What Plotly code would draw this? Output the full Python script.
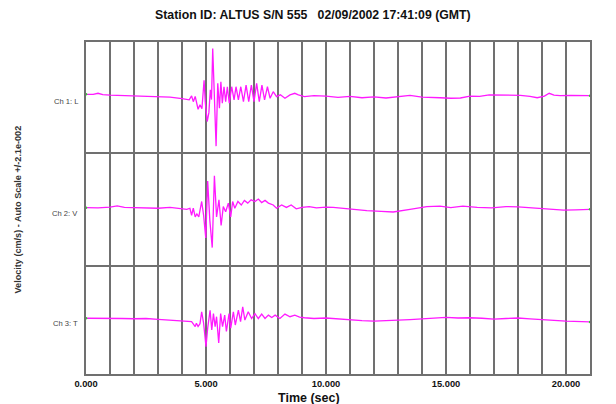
import plotly.graph_objects as go

# ---------------- data (velocity in 1e-3 cm/s) ----------------
t_ch1 = [0.0, 0.3, 0.5, 0.7, 1.0, 1.5, 2.0, 2.5, 3.0, 3.5, 4.0, 4.3, 4.4, 4.47, 4.55,
         4.67, 4.75, 4.83, 4.92, 4.97, 5.05, 5.12, 5.18, 5.23, 5.28, 5.35, 5.42, 5.49,
         5.56, 5.62, 5.68, 5.75, 5.82, 5.89, 5.97, 6.07, 6.17, 6.25, 6.35, 6.45, 6.56,
         6.67, 6.78, 6.89, 7.0, 7.11, 7.22, 7.33, 7.44, 7.56, 7.67, 7.8, 7.94, 8.1, 8.29,
         8.5, 8.7, 8.85, 9.1, 9.5, 10.0, 10.5, 11.0, 11.5, 12.0, 12.5, 13.0, 13.5, 14.0,
         14.5, 14.75, 15.2, 15.6, 16.0, 16.4, 16.8, 17.2, 17.7, 18.1, 18.5, 18.8, 19.1,
         19.3, 19.5, 19.75, 20.2, 20.6, 21.0]
v_ch1 = [1.0, 1.0, 1.4, 0.9, 0.7, 0.6, 0.4, 0.3, 0.1, -0.1, -0.6, -1.1, 0.4, -1.8, 0.2,
         -4.7, -3.0, -4.5, 6.4, -2.0, -9.4, -6.0, 2.7, -1.0, 18.5, -3.7, -18.8, 5.2,
         -4.3, 5.8, -2.4, 3.9, -1.8, 3.9, -2.4, 3.9, -1.1, 3.9, -1.1, 3.9, -1.8,
         4.5, -1.8, 4.5, -1.8, 5.2, -1.8, 4.5, -1.1, 3.9, -0.5, 2.0, 0.1, 0.8, -0.5,
         0.8, 1.4, 0.8, 0.1, 0.5, 0.3, -0.2, 0.2, -0.3, 0.0, -0.4, 0.2, 0.6, -0.1,
         -0.4, -0.3, -0.5, -0.4, 0.3, 0.2, 0.8, 0.7, 0.8, 0.6, 0.2, -0.3, 0.3,
         1.4, 0.7, 0.5, 0.6, 0.5, 0.5]

t_ch2 = [0.0, 0.5, 1.0, 1.3, 1.6, 2.0, 2.5, 3.0, 3.5, 4.0, 4.2, 4.33, 4.4, 4.47, 4.55,
         4.62, 4.7, 4.82, 4.9, 4.99, 5.07, 5.16, 5.26, 5.35, 5.44, 5.54, 5.63, 5.72,
         5.82, 5.93, 6.03, 6.11, 6.2, 6.33, 6.47, 6.6, 6.74, 6.88, 7.04, 7.18, 7.32,
         7.46, 7.6, 7.8, 7.94, 8.15, 8.35, 8.55, 8.76, 9.0, 9.3, 9.6, 10.0, 10.3, 11.0,
         11.7, 12.3, 12.8, 13.5, 14.2, 14.75, 15.2, 15.7, 16.3, 16.9, 17.5, 18.0, 18.4,
         19.2, 19.9, 20.4, 20.9, 21.0]
v_ch2 = [0.3, 0.2, 0.5, 1.0, 0.4, 0.3, 0.2, 0.1, 0.4, 0.0, -0.3, 0.1, -2.5, 0.1, -3.1,
         -2.0, -3.1, 2.6, -2.5, -10.9, 10.2, -4.4, -14.5, 12.1, -3.1, 3.2, -6.3, 0.7,
         -1.2, 2.0, -3.1, 2.6, 0.1, 2.6, 1.3, 3.0, 2.0, 3.2, 2.6, 3.5, 2.2,
         3.0, 2.0, 1.3, 0.1, 1.3, 0.4, 1.3, -0.1, 0.4, 0.7, 0.2, 0.5, 0.4, -0.3,
         -0.8, -1.1, -1.3, -0.3, 0.7, 0.9, 0.3, 0.9, 0.4, 0.2, 0.7, 0.6, 0.4,
         -0.1, -0.6, -0.5, -0.3, -0.3]

t_ch3 = [0.0, 0.5, 1.0, 1.5, 2.0, 2.5, 3.0, 3.5, 4.0, 4.4, 4.55, 4.6, 4.67, 4.75, 4.82,
         4.9, 5.0, 5.07, 5.17, 5.24, 5.31, 5.38, 5.44, 5.53, 5.61, 5.69, 5.78, 5.85,
         5.96, 6.03, 6.14, 6.22, 6.35, 6.44, 6.53, 6.62, 6.76, 6.9, 7.04, 7.18, 7.32,
         7.46, 7.6, 7.74, 7.88, 8.08, 8.29, 8.5, 8.7, 8.9, 9.1, 9.5, 10.0, 10.5, 11.0,
         11.5, 12.0, 12.5, 13.0, 13.5, 14.0, 14.5, 15.0, 15.5, 16.0, 16.5, 17.0, 17.5,
         18.0, 18.5, 19.0, 19.5, 20.0, 20.5, 21.0]
v_ch3 = [0.5, 0.5, 0.6, 0.4, 0.3, 0.4, 0.1, -0.2, -0.5, -0.8, -2.7, -1.4, -2.7, -1.6, 3.0,
         -1.4, -10.5, -3.3, 3.6, -4.0, 2.3, -2.7, 1.1, -9.0, 2.3, -2.7, 1.7, -4.6,
         2.3, -3.3, 3.0, -2.1, 3.6, -0.8, 4.9, -0.2, 3.0, 0.4, 2.3, 0.4, 2.1,
         0.4, 1.7, 0.8, 1.7, 0.4, 2.1, 1.1, 1.7, 0.9, 0.7, 0.4, 0.6, 0.2, 0.0,
         -0.4, -0.6, -0.5, -0.2, 0.0, 0.3, 0.6, 0.8, 0.6, 0.7, 0.5, 0.2, 0.4,
         0.6, 0.3, 0.1, -0.3, -0.6, -0.7, -0.9]

channels = ["Ch 1: L", "Ch 2: V", "Ch 3: T"]
tick_vals = list(range(0, 22))
tick_text = ["%.3f" % v if v % 5 == 0 else "" for v in tick_vals]
title_text = "Station ID: ALTUS S/N 555   02/09/2002 17:41:09 (GMT)"
y_title = "Velocity (cm/s) - Auto Scale +/-2.1e-002"
x_title = "Time (sec)"
scale = 21.0

# ---------------- figure ----------------
FONT = "Liberation Sans, Arial, sans-serif"
GRID = "#707070"
MAG = "#ff1aff"

series = [(t_ch1, v_ch1), (t_ch2, v_ch2), (t_ch3, v_ch3)]
domains = [[0.669, 1.0], [0.328, 0.669], [0.0, 0.328]]

fig = go.Figure()
for i, (tt, vv) in enumerate(series):
    n = i + 1
    xa = "x" if n == 1 else "x%d" % n
    ya = "y" if n == 1 else "y%d" % n
    fig.add_trace(go.Scatter(x=tt, y=vv, mode="lines", xaxis=xa, yaxis=ya,
                             line=dict(color=MAG, width=1.3), showlegend=False,
                             hoverinfo="skip"))
    fig.add_trace(go.Scatter(x=[tt[0], tt[-1]], y=[vv[0], vv[-1]], mode="markers",
                             xaxis=xa, yaxis=ya, marker=dict(color="#33cc33", size=2.5),
                             showlegend=False, hoverinfo="skip"))

layout = dict(
    width=616, height=404,
    margin=dict(l=86, r=26, t=42, b=30),
    paper_bgcolor="white", plot_bgcolor="white",
    font=dict(family=FONT, color="#222"),
)
for i in range(3):
    n = i + 1
    xk = "xaxis" if n == 1 else "xaxis%d" % n
    yk = "yaxis" if n == 1 else "yaxis%d" % n
    ya = "y" if n == 1 else "y%d" % n
    layout[xk] = dict(
        range=[0, 21], anchor=ya, domain=[0, 1],
        tickmode="array", tickvals=tick_vals, ticktext=tick_text,
        showticklabels=(n == 3), ticks="",
        tickfont=dict(family=FONT, size=9.3, color="#111", weight="bold"),
        showgrid=True, gridcolor=GRID, gridwidth=1.7,
        showline=True, linecolor=GRID, linewidth=1.7, mirror=(n == 1),
        zeroline=False, fixedrange=True,
    )
    if n > 1:
        layout[xk]["matches"] = "x"
    layout[yk] = dict(
        range=[-scale, scale], domain=domains[i], anchor="x" if n == 1 else "x%d" % n,
        showticklabels=False, ticks="", showgrid=False, zeroline=False,
        showline=True, linecolor=GRID, linewidth=1.7, mirror=True,
    )
fig.update_layout(**layout)

ann = [
    dict(text="<b>%s</b>" % title_text, x=0.45, y=1.0, xref="paper", yref="paper",
         yshift=27, xanchor="center", yanchor="middle", showarrow=False,
         font=dict(family=FONT, size=12.3, color="#111")),
    dict(text="<b>%s</b>" % y_title, x=0, y=0.494, xref="paper", yref="paper",
         xshift=-68.5, textangle=-90, xanchor="center", yanchor="middle", showarrow=False,
         font=dict(family=FONT, size=9.1, color="#333")),
    dict(text="<b>%s</b>" % x_title, x=0.443, y=0, xref="paper", yref="paper",
         yshift=-24, xanchor="center", yanchor="middle", showarrow=False,
         font=dict(family=FONT, size=12.5, color="#111")),
]
for i, name in enumerate(channels):
    n = i + 1
    ya = "y" if n == 1 else "y%d" % n
    ann.append(dict(text=name, x=0, y=0.46, xref="paper", yref="%s domain" % ya,
                    xanchor="right", yanchor="middle", xshift=-6, showarrow=False,
                    font=dict(family=FONT, size=7.6, color="#444")))
fig.update_layout(annotations=ann)

fig.write_html("out.html")
